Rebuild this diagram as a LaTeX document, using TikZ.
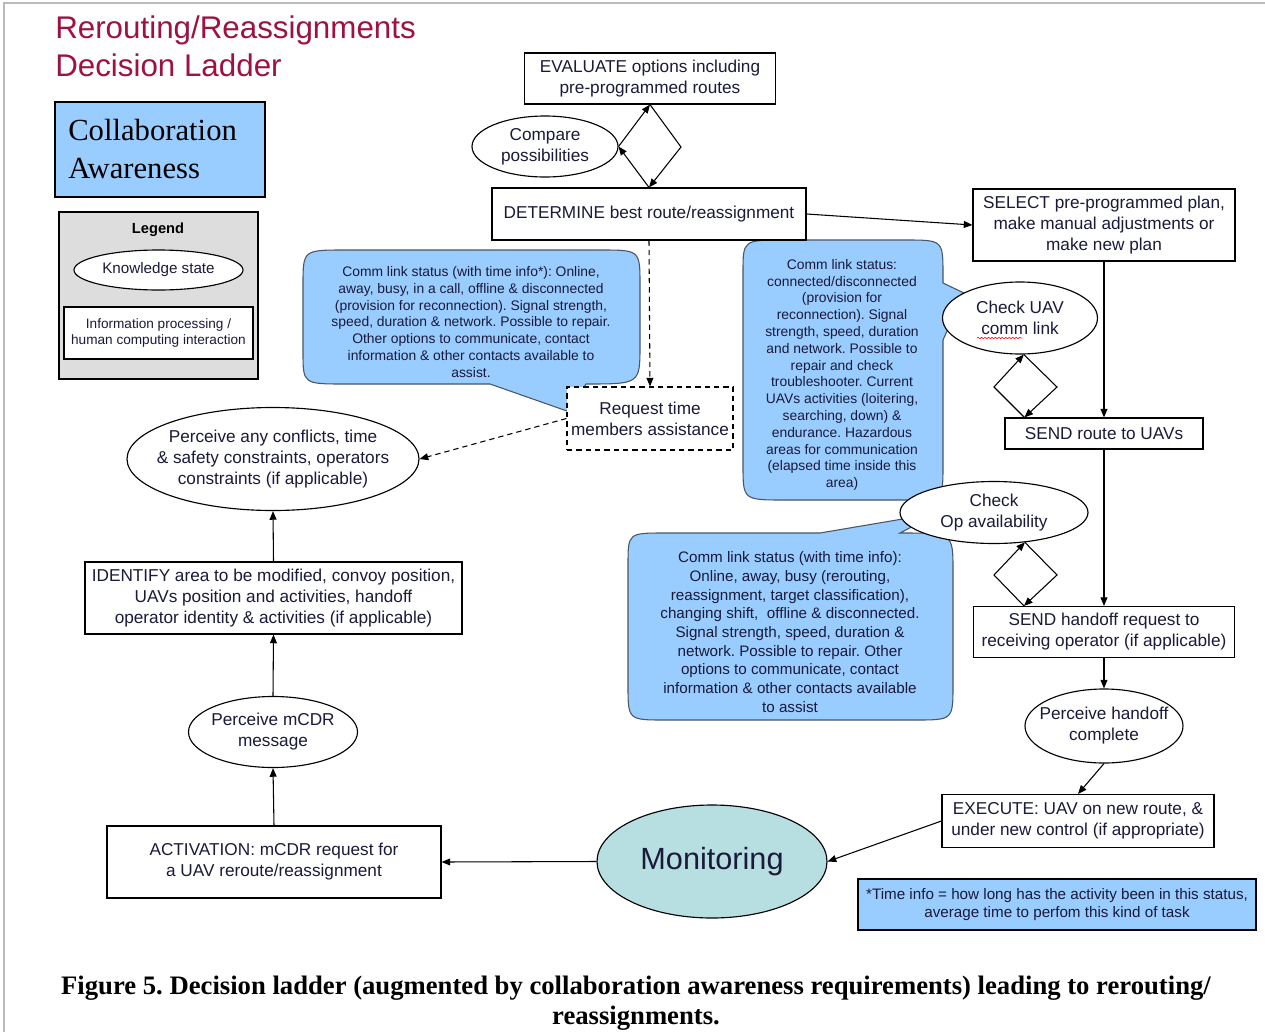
\documentclass[tikz,border=0pt]{standalone}
\usepackage{fontspec}
\usepackage{graphicx}
\setmainfont{Liberation Sans}
\newfontfamily\capserif{Liberation Serif}
\usetikzlibrary{arrows.meta,calc,shapes.geometric,decorations.pathmorphing}
\pgfdeclarelayer{under}
\pgfsetlayers{under,main}
\frenchspacing

\definecolor{titlered}{HTML}{9E1240}
\definecolor{bubbleblue}{HTML}{99CCFF}
\definecolor{bubbleedge}{HTML}{4A5566}
\definecolor{monfill}{HTML}{B7DEE0}
\definecolor{legendgray}{HTML}{DDDDDD}
\definecolor{framegray}{HTML}{BBBBBB}
\definecolor{ink}{HTML}{1A1A3A}

\newcommand\fmain{\fontsize{12.9}{15.75}\selectfont}
\newcommand\fnote{\fontsize{10.4}{12.6}\selectfont}
\newcommand\fnotebig{\fontsize{11.4}{14}\selectfont}

\tikzset{
  wh/.style 2 args={minimum width={#1*0.75pt}, minimum height={#2*0.75pt}},
  box/.style={draw=black, line width=0.85pt, fill=white, inner sep=0pt,
    align=center, text=ink, font=\fmain},
  oval/.style={ellipse, draw=black, line width=0.85pt, fill=white,
    inner sep=0pt, align=center, text=ink, font=\fmain},
  % text set inside a fixed-size ellipse without letting it grow
  otext/.style={label={[align=center, text=ink, font=\fmain, inner sep=0pt]center:{#1}}},
  link/.style={line width=0.8pt, -{Triangle[length=6.5pt,width=5.2pt]}},
  dlink/.style={link, dash pattern=on 4pt off 3pt},
  bubble/.style={fill=bubbleblue, draw=bubbleedge, line width=0.8pt},
  note/.style={align=center, text=ink, inner sep=0pt},
}

\begin{document}
\begin{tikzpicture}[x=0.75pt,y=-0.75pt]
\useasboundingbox (0,0) rectangle (1265,1032);
\fill[white] (0,0) rectangle (1265,1032);
% page frame
\draw[framegray, line width=1.5pt] (4,1032) -- (4,3) -- (1265,3);

% heading
\node[anchor=base west, inner sep=0pt, text=titlered,
  font=\fontsize{23.5}{28}\selectfont] (title1) at (55,38) {Rerouting/Reassignments};
\node[anchor=base west, inner sep=0pt, text=titlered,
  font=\fontsize{23.5}{28}\selectfont] (title2) at (55,76) {Decision Ladder};

% collaboration awareness tag
\node[draw=black, line width=0.85pt, fill=bubbleblue, wh={210}{95}, inner sep=0pt]
  (collab) at (160,149.5) {};
\node[anchor=base west, inner sep=0pt, font=\capserif\fontsize{23}{28}\selectfont]
  (collab1) at (68,140) {Collaboration};
\node[anchor=base west, inner sep=0pt, font=\capserif\fontsize{23}{28}\selectfont]
  (collab2) at (68,178) {Awareness};

% legend
\node[draw=black, line width=0.85pt, fill=legendgray, wh={199}{167}, inner sep=0pt]
  (legendbox) at (158.5,295.5) {};
\node[inner sep=0pt, font=\bfseries\fontsize{11}{13}\selectfont] (legendtitle) at (158,230) {Legend};
\node[oval, wh={169}{40}, font=\fontsize{11.4}{13}\selectfont] (legoval) at (158.5,270) {Knowledge state};
\node[box, wh={189}{52}, font=\fontsize{10.2}{12.6}\selectfont] (legbox) at (158.5,333)
  {Information processing /\\human computing interaction};

% callouts
\path[bubble] (303,285) .. controls (303,250) .. (345,250) -- (600,250)
  .. controls (640,250) .. (640,285) -- (640,345) .. controls (640,384) .. (586,384)
  -- (567,411) -- (490,384) -- (345,384) .. controls (303,384) .. (303,352) -- cycle;
\path[bubble] (743,272) .. controls (743,240) .. (785,240) -- (905,240)
  .. controls (943,240) .. (943,275) -- (943,283) -- (964,293) -- (943,340)
  -- (943,465) .. controls (943,500) .. (905,500) -- (785,500)
  .. controls (743,500) .. (743,465) -- cycle;
\path[bubble] (628,565) .. controls (628,533) .. (665,533) -- (820,533) -- (938,513)
  -- (900,533) .. controls (953,533) .. (953,570) -- (953,685)
  .. controls (953,720) .. (915,720) -- (665,720) .. controls (628,720) .. (628,685) -- cycle;

\node[note, font=\fnote] (c1text) at (471,322) {Comm link status (with time info*): Online,\\
  away, busy, in a call, offline \& disconnected\\
  (provision for reconnection). Signal strength,\\
  speed, duration \& network. Possible to repair.\\
  Other options to communicate, contact\\
  information \& other contacts available to\\
  assist.};
\node[note, font=\fnote] (c2text) at (842,375) {Comm link status:\\
  connected/disconnected\\
  (provision for\\
  reconnection). Signal\\
  strength, speed, duration\\
  and network. Possible to\\
  repair and check\\
  troubleshooter. Current\\
  UAVs activities (loitering,\\
  searching, down) \&\\
  endurance. Hazardous\\
  areas for communication\\
  (elapsed time inside this\\
  area)};
\node[note, font=\fnotebig] (c3text) at (790,632) {Comm link status (with time info):\\
  Online, away, busy (rerouting,\\
  reassignment, target classification),\\
  changing shift,\ \ offline \& disconnected.\\
  Signal strength, speed, duration \&\\
  network. Possible to repair. Other\\
  options to communicate, contact\\
  information \& other contacts available\\
  to assist};

% ladder: boxes
\node[box, wh={251}{51}] (eval) at (650,78.5) {EVALUATE options including\\pre-programmed routes};
\node[box, wh={314}{52}] (determ) at (649,214) {DETERMINE best route/reassignment};
\node[box, wh={262}{72}] (select) at (1104,225)
  {SELECT pre-programmed plan,\\make manual adjustments or\\make new plan};
\node[box, wh={198}{31}] (sendroute) at (1104,433.5) {SEND route to UAVs};
\node[box, wh={261}{51}] (sendhand) at (1104,632)
  {SEND handoff request to\\receiving operator (if applicable)};
\node[box, wh={272}{53}] (execute) at (1078,821)
  {EXECUTE: UAV on new route, \&\\under new control (if appropriate)};
\node[box, wh={334}{72}] (activation) at (274,862)
  {ACTIVATION: mCDR request for\\a UAV reroute/reassignment};
\node[box, wh={377}{72}] (identify) at (273.5,598)
  {IDENTIFY area to be modified, convoy position,\\UAVs position and activities, handoff\\operator identity \& activities (if applicable)};
\node[box, wh={166}{63}, dash pattern=on 4pt off 3pt] (request) at (650,418.5)
  {Request time\\members assistance};
\node[box, wh={398}{51}, fill=bubbleblue, font=\fontsize{11.4}{13.5}\selectfont] (timeinfo) at (1057,904.5)
  {*Time info = how long has the activity been in this status,\\average time to perfom this kind of task};

% ladder: knowledge states
\node[oval, wh={146}{61}] (compare) at (545,146.5) {Compare\\possibilities};
\node[oval, wh={155}{72}] (checkuav) at (1020,318) {Check UAV\\comm link};
\node[oval, wh={188}{62}] (checkop) at (994,512.5) {Check\\Op availability};
\node[oval, wh={158}{74}, otext={Perceive handoff\\complete}] (perhand) at (1104,726) {};
\node[oval, wh={230}{113}, fill=monfill, font=\fontsize{23}{28}\selectfont] (monitor) at (712,861.5) {Monitoring};
\node[oval, wh={169}{71}, otext={Perceive mCDR\\message}] (permcdr) at (273,732) {};
\node[oval, wh={292}{103},
  otext={Perceive any conflicts, time\\\& safety constraints, operators\\constraints (if applicable)}]
  (perconf) at (273,459) {};

% spell-check mark under "comm"
\draw[red, line width=0.45pt, decorate, decoration={snake, amplitude=0.5pt, segment length=2.6pt}]
  ($(checkuav.center)+(-43,20)$) -- ($(checkuav.center)+(2,20)$);

% connectors
\draw[link] (determ.east) -- (select.west);
\draw[link] (select.south) -- (sendroute.north);
\draw[link] (sendroute.south) -- (sendhand.north);
\draw[link] (sendhand.south) -- (perhand.north);
\draw[link] (perhand.south) -- (execute.north);
\draw[link] (execute.west) -- (monitor.east);
\draw[link] (monitor.west) -- (activation.east);
\draw[link] (activation.north) -- (permcdr.south);
\draw[link] (permcdr.north) -- (identify.south);
\draw[link] (identify.north) -- (perconf.south);
\begin{pgfonlayer}{under}
  \draw[link] (perconf.north) -- (determ.west);
\end{pgfonlayer}
\draw[dlink] (determ.south) -- (request.north);
\draw[dlink] (request.west) -- (perconf.east);

% compare loop between EVALUATE and DETERMINE
\coordinate (d1r) at (681,147);
\draw[link] (determ.north) -- (compare.east);
\draw[link] (compare.east) -- (eval.south);
\draw[link] (eval.south) -- (d1r) -- (determ.north);

% check-UAV loop above SEND route
\coordinate (d2l) at (994,387);
\coordinate (d2r) at (1057,387);
\coordinate (d2b) at ($(sendroute.north west)+(20,0)$);
\draw[link] (d2b) -- (d2l) -- (checkuav.-84);
\draw[link] (checkuav.-84) -- (d2r) -- (d2b);

% check-Op loop above SEND handoff
\coordinate (d3l) at (994,575);
\coordinate (d3r) at (1057,575);
\coordinate (d3b) at ($(sendhand.north west)+(51,0)$);
\draw[link] (d3b) -- (d3l) -- (checkop.-44);
\draw[link] (checkop.-44) -- (d3r) -- (d3b);

% caption
\node[anchor=base, inner sep=0pt, font=\capserif\bfseries\fontsize{20}{24}\selectfont] (cap1) at (636,994)
  {Figure 5. Decision ladder (augmented by collaboration awareness requirements) leading to rerouting/};
\node[anchor=base, inner sep=0pt, font=\capserif\bfseries\fontsize{20}{24}\selectfont] (cap2) at (636,1024)
  {reassignments.};
\end{tikzpicture}
\end{document}
